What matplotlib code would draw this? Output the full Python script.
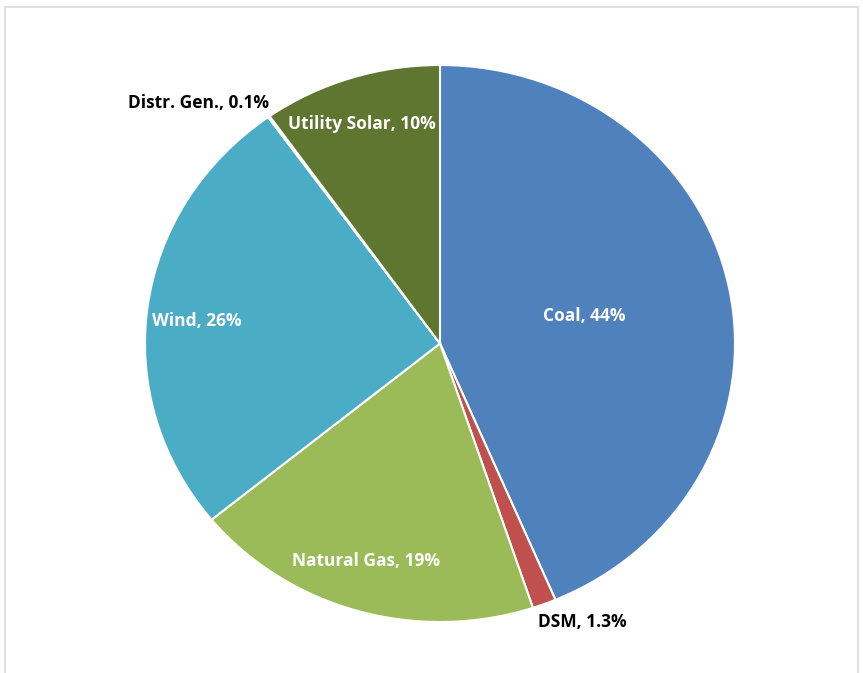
import numpy as np
import matplotlib.pyplot as plt
from matplotlib.patches import Rectangle

labels = ["Coal", "DSM", "Natural Gas", "Wind", "Distr. Gen.", "Utility Solar"]
shares = [43.6, 1.3, 19.2, 26.0, 0.1, 9.8]
pct_text = ["44%", "1.3%", "19%", "26%", "0.1%", "10%"]
colors = ["#4F81BD", "#C0504D", "#9BBB59", "#4BACC6", "#8064A2", "#5F7630"]

# label radius (fraction of pie radius) and text colour per slice
label_r = [0.5, 1.11, 0.82, 0.83, 1.19, 0.83]
label_c = ["white", "black", "white", "white", "black", "white"]
# nudges in degrees for the labels
label_da = [0, 5, -1.5, 2, 8, 1]

fig = plt.figure(figsize=(8.63, 6.73), dpi=100)
W, H = 863, 673

# light frame around chart area (open at the bottom)
fig.patches.append(Rectangle((5 / W, -0.02), 853 / W, (H - 7) / H + 0.02, transform=fig.transFigure,
                             fill=False, edgecolor="#D9D9D9", linewidth=1.2))

ax = fig.add_axes([145 / W, (H - 622) / H, 590 / W, 557 / H])
wedges, _ = ax.pie(shares, colors=colors, startangle=90, counterclock=False,
                   wedgeprops=dict(edgecolor="white", linewidth=1.5))
ax.set_aspect("auto")
ax.set_xlim(-1, 1)
ax.set_ylim(-1, 1)

for w, lab, p, r, c, da in zip(wedges, labels, pct_text, label_r, label_c, label_da):
    ang = np.deg2rad((w.theta1 + w.theta2) / 2 + da)
    ax.text(r * np.cos(ang), r * np.sin(ang), f"{lab}, {p}", ha="center", va="center",
            color=c, fontsize=12.5, fontweight="bold", family=["Open Sans", "DejaVu Sans"],
            clip_on=False)

fig.savefig("out.png", dpi=100)
